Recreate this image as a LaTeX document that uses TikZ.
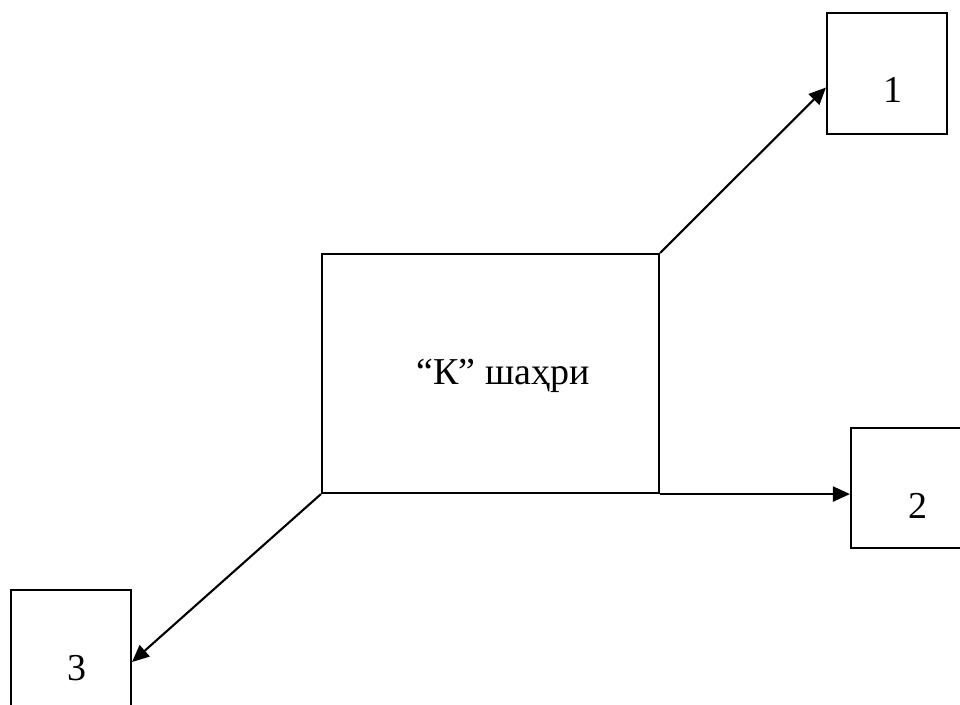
\documentclass[tikz,border=0pt]{standalone}
\usepackage{fontspec}
\setmainfont{Liberation Serif}
\usetikzlibrary{arrows.meta,calc}
\begin{document}
\begin{tikzpicture}[x=1pt,y=-1pt,
  box/.style={draw,line width=2.1pt,inner sep=0pt},
  lbl/.style={font=\fontsize{38}{45}\selectfont},
  arr/.style={line width=2.1pt,-{Triangle[length=17pt,width=15pt]}}]
\useasboundingbox (0,0) rectangle (960,704);
\clip (0,0) rectangle (960,704);
\fill[white] (0,0) rectangle (960,704);
\node[box,minimum width=337pt,minimum height=239pt] (c) at (490.5,373.5) {};
\node[lbl] (ct) at (503,376) {“К” шаҳри};
\node[box,minimum width=120pt,minimum height=121pt] (b1) at (887,73.5) {};
\node[lbl] (t1) at (893,90) {1};
\node[box,minimum width=120pt,minimum height=120pt] (b2) at (911,488) {};
\node[lbl] (t2) at (918,506) {2};
\node[box,minimum width=120pt,minimum height=120pt] (b3) at (71,650) {};
\node[lbl] (t3) at (77,668) {3};
\draw[arr] (c.north east) -- ([yshift=-14pt]b1.west);
\draw[arr] (c.south east) -- (c.south east -| b2.west);
\draw[arr] (c.south west) -- ([yshift=-12pt]b3.east);
\end{tikzpicture}
\end{document}
